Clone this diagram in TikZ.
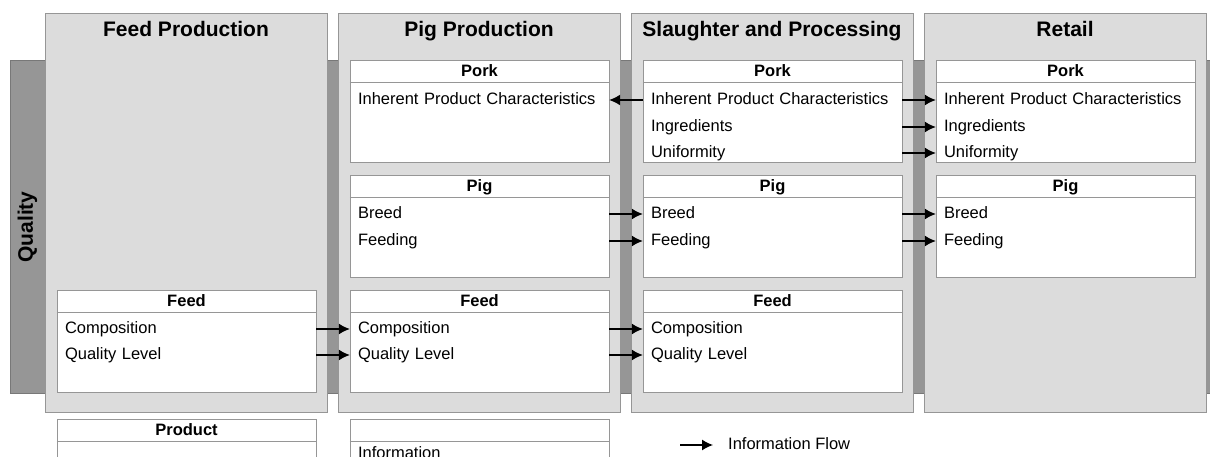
\documentclass[tikz,border=0pt]{standalone}
\usepackage{fontspec}
\setmainfont{Liberation Sans}
\usetikzlibrary{positioning,arrows.meta}
\definecolor{stagefill}{RGB}{220,220,220}
\definecolor{bandfill}{RGB}{150,150,150}
\definecolor{rim}{RGB}{150,150,150}
\tikzset{
	stage/.style={draw=rim, fill=stagefill, minimum width=282pt, minimum height=399pt, inner sep=0pt},
	box/.style={draw=rim, fill=white, minimum width=259pt, minimum height=102pt, inner sep=0pt},
	title/.style={font=\fontsize{21}{24}\selectfont\bfseries, anchor=base},
	head/.style={font=\fontsize{16.5}{19}\selectfont\bfseries, inner sep=0pt, anchor=base},
	item/.style={font=\fontsize{16.5}{19}\selectfont, text width=243pt, inner xsep=8pt, inner ysep=0pt,
		text height=12.5pt, text depth=3.5pt, align=left, yshift=-2pt},
	flow/.style={-{Latex[length=11pt,width=11pt]}, line width=1.3pt},
	sep/.style={draw=rim}
}

\begin{document}
\begin{tikzpicture}[x=1pt, y=-1pt]
			\clip (0,0) rectangle (1210,457);

			% quality band
			\draw[fill=bandfill, draw=rim!80!black] (10,60) rectangle (1215,393);
			\node[font=\fontsize{21}{24}\selectfont\bfseries, rotate=90] (qual) at (27.5,227){Quality};

			% stages
			\node[stage] (fd) at (186,212.5){};
			\node[stage] (pg) at (479,212.5){};
			\node[stage] (sl) at (772,212.5){};
			\node[stage] (rt) at (1065,212.5){};
			\node[title] at (186,37){Feed Production};
			\node[title] at (479,37){Pig Production};
			\node[title] at (772,37){Slaughter and Processing};
			\node[title] at (1065,37){Retail};

			% pork
			\node[box] (pgPork) at (479.5,111){};
			\node[box] (slPork) at (772.5,111){};
			\node[box] (rtPork) at (1065.5,111){};
			% pig
			\node[box] (pgPig) at (479.5,226){};
			\node[box] (slPig) at (772.5,226){};
			\node[box] (rtPig) at (1065.5,226){};
			% feed
			\node[box] (fdFeed) at (186.5,341){};
			\node[box] (pgFeed) at (479.5,341){};
			\node[box] (slFeed) at (772.5,341){};
			% legend boxes
			\node[box, minimum height=60pt] (prod) at (186.5,449){};
			\node[box, minimum height=60pt] (info) at (479.5,449){};

			\foreach \b/\t in {pgPork/Pork, slPork/Pork, rtPork/Pork, pgPig/Pig, slPig/Pig, rtPig/Pig,
					fdFeed/Feed, pgFeed/Feed, slFeed/Feed, prod/Product, info/{}}{
				\draw[sep] ([yshift=-22pt]\b.north west) to ([yshift=-22pt]\b.north east);
				\node[head] at ([yshift=-17pt]\b.north){\t};
			}

			\node[item] (pgIPC) at (479.5,98){Inherent Product Characteristics};
			\node[item] (slIPC) at (772.5,98){Inherent Product Characteristics};
			\node[item] (slIng) at (772.5,125){Ingredients};
			\node[item] (slUni) at (772.5,151){Uniformity};
			\node[item] (rtIPC) at (1065.5,98){Inherent Product Characteristics};
			\node[item] (rtIng) at (1065.5,125){Ingredients};
			\node[item] (rtUni) at (1065.5,151){Uniformity};

			\node[item] (pgBreed) at (479.5,212){Breed};
			\node[item] (pgFdg) at (479.5,239){Feeding};
			\node[item] (slBreed) at (772.5,212){Breed};
			\node[item] (slFdg) at (772.5,239){Feeding};
			\node[item] (rtBreed) at (1065.5,212){Breed};
			\node[item] (rtFdg) at (1065.5,239){Feeding};

			\node[item] (fdComp) at (186.5,327){Composition};
			\node[item] (fdQL) at (186.5,353){Quality Level};
			\node[item] (pgComp) at (479.5,327){Composition};
			\node[item] (pgQL) at (479.5,353){Quality Level};
			\node[item] (slComp) at (772.5,327){Composition};
			\node[item] (slQL) at (772.5,353){Quality Level};

			\node[item] (infoTxt) at (479.5,452){Information};

			% information flow
			\draw[flow] (slIPC.west) to (pgIPC.east);
			\draw[flow] (slIPC.east) to (rtIPC.west);
			\draw[flow] (slIng.east) to (rtIng.west);
			\draw[flow] (slUni.east) to (rtUni.west);
			\draw[flow] (pgBreed.east) to (slBreed.west);
			\draw[flow] (pgFdg.east) to (slFdg.west);
			\draw[flow] (slBreed.east) to (rtBreed.west);
			\draw[flow] (slFdg.east) to (rtFdg.west);
			\draw[flow] (fdComp.east) to (pgComp.west);
			\draw[flow] (fdQL.east) to (pgQL.west);
			\draw[flow] (pgComp.east) to (slComp.west);
			\draw[flow] (pgQL.east) to (slQL.west);

			\node[item, text width=, inner xsep=0pt, anchor=west] (legT) at (728,443){Information Flow};
			\coordinate (legA) at (legT.west -| 680,0);
			\draw[flow] (legA) to ([xshift=-15pt]legT.west);
\end{tikzpicture}
\end{document}
